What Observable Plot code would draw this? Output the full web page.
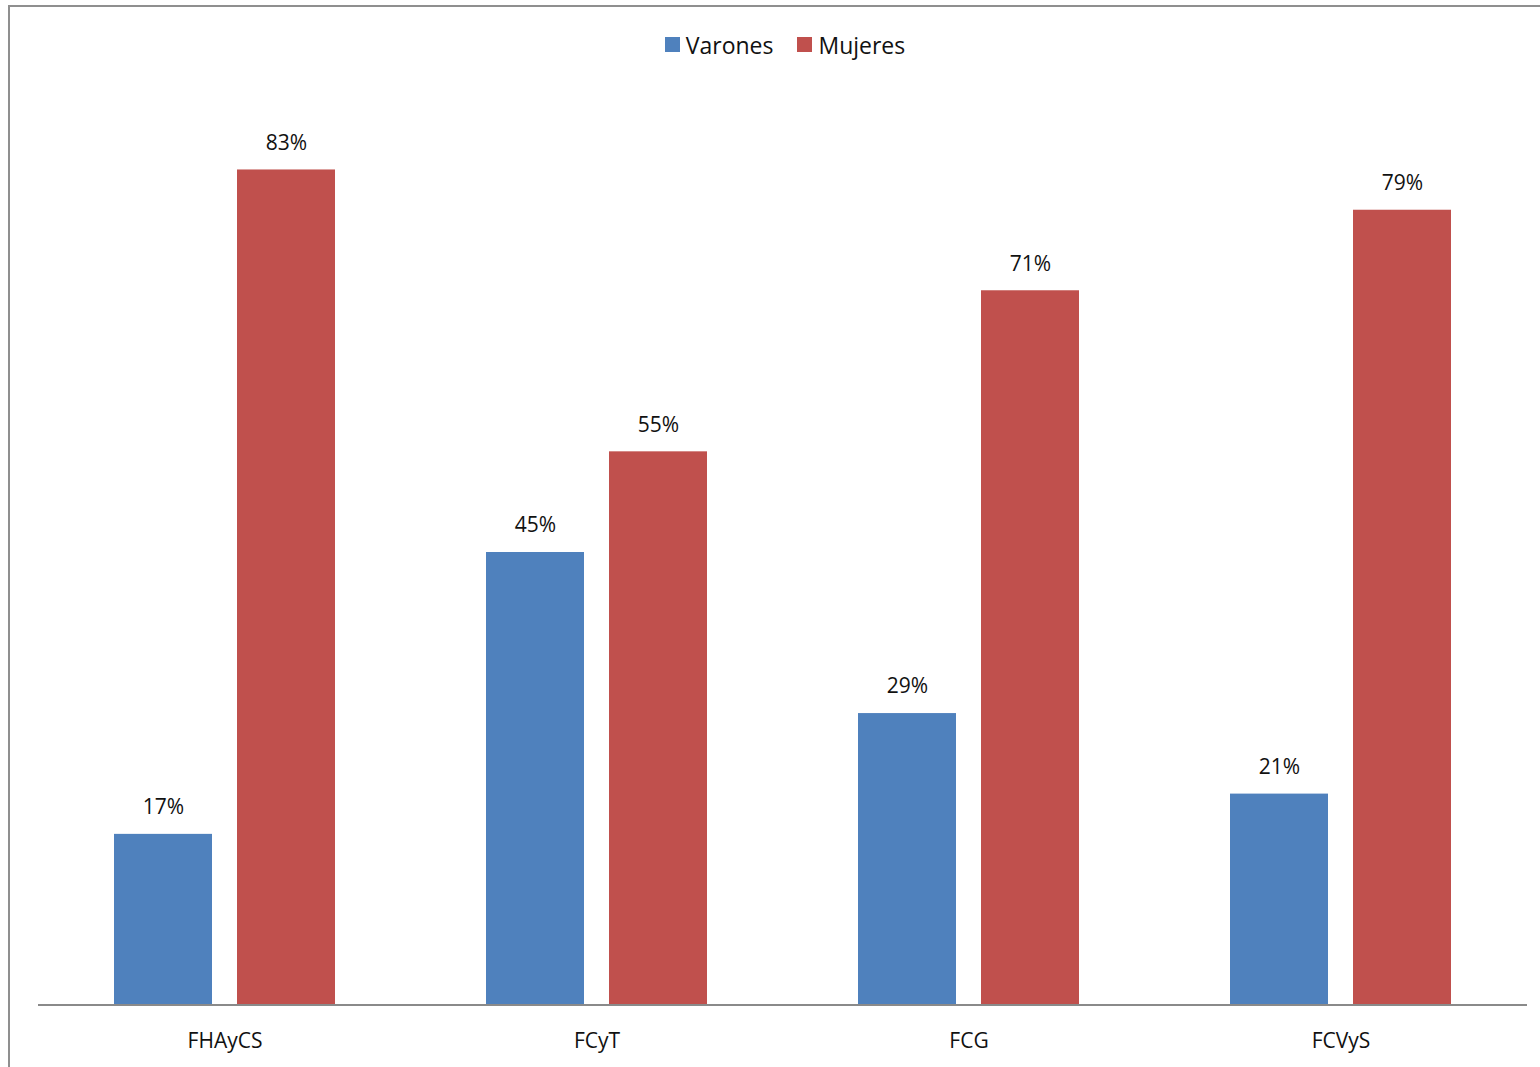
<!DOCTYPE html>
<html>
<head>
<meta charset="utf-8">
<script src="https://cdn.jsdelivr.net/npm/d3@7"></script>
<script src="https://cdn.jsdelivr.net/npm/@observablehq/plot@0.6"></script>
<style>
  html, body { margin: 0; padding: 0; background: #fff; }
  body { width: 1540px; height: 1067px; position: relative; overflow: hidden; font-family: "Open Sans", "Liberation Sans", sans-serif; }
  #frame { position: absolute; left: 8px; top: 5px; width: 1540px; height: 1100px; border-left: 2px solid #8f8f8f; border-top: 2px solid #8f8f8f; box-sizing: border-box; }
  #legend { position: absolute; top: 27px; left: 0; width: 1570px; text-align: center; font-size: 23px; color: #111; }
  #legend span.item { display: inline-flex; align-items: center; margin: 0 12px; }
  #legend span.sw { display: inline-block; width: 15px; height: 15px; margin-right: 6px; }
  #chart { position: absolute; left: 0; top: 0; }
</style>
</head>
<body>
<div id="frame"></div>
<div id="legend"></div>
<div id="chart"></div>
<script>
const categories = ["FHAyCS", "FCyT", "FCG", "FCVyS"];
const series = ["Varones", "Mujeres"];
const varones = [17, 45, 29, 21];
const mujeres = [83, 55, 71, 79];
const colors = ["#4F81BD", "#C0504D"];

const data = [];
categories.forEach((c, i) => {
  data.push({cat: c, sex: "Varones", value: varones[i]});
  data.push({cat: c, sex: "Mujeres", value: mujeres[i]});
});

const legend = document.getElementById("legend");
series.forEach((s, i) => {
  const item = document.createElement("span");
  item.className = "item";
  const sw = document.createElement("span");
  sw.className = "sw";
  sw.style.background = colors[i];
  item.appendChild(sw);
  item.appendChild(document.createTextNode(s));
  legend.appendChild(item);
});

const chart = Plot.plot({
  width: 1540,
  height: 1067,
  marginLeft: 38,
  marginRight: 13,
  marginTop: 99,
  marginBottom: 62,
  style: {fontFamily: "'Open Sans', 'Liberation Sans', sans-serif", fontSize: "21px", color: "#111", background: "transparent"},
  fx: {domain: categories, paddingInner: 0.4, paddingOuter: 0.2, label: null, axis: "bottom", tickSize: 0, tickPadding: 28},
  x: {domain: series, paddingInner: 0.2, paddingOuter: 0, axis: null},
  y: {domain: [0, 90], axis: null},
  color: {domain: series, range: colors},
  marks: [
    Plot.barY(data, {fx: "cat", x: "sex", y: "value", fill: "sex"}),
    Plot.text(data, {fx: "cat", x: "sex", y: "value", text: d => d.value + "%", dy: -27, fill: "#111", fontSize: 21})
  ]
});
// full-width baseline at y = 0, positioned through the y scale
const y0 = chart.scale("y").apply(0);
d3.select(chart).append("line")
  .attr("x1", 38).attr("x2", 1540 - 13)
  .attr("y1", y0).attr("y2", y0)
  .attr("stroke", "#8a8a8a").attr("stroke-width", 2);
document.getElementById("chart").appendChild(chart);
</script>
</body>
</html>
